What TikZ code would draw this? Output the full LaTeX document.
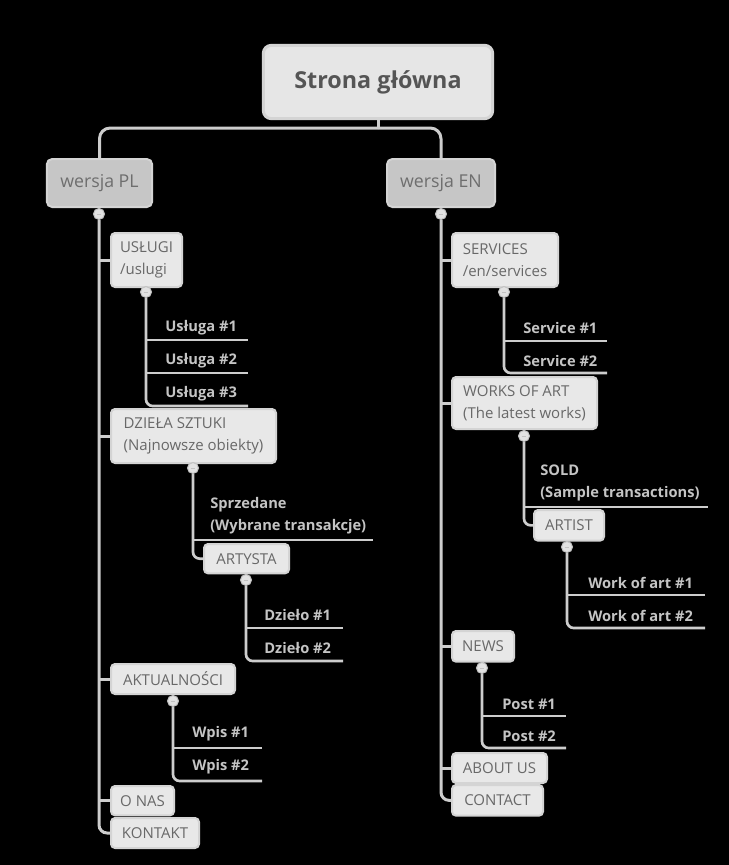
\documentclass[tikz,border=0pt]{standalone}
\usepackage{fontspec}
\setmainfont{Open Sans}
\pgfdeclarelayer{bg}
\pgfdeclarelayer{lines}
\pgfsetlayers{bg,lines,main}
\definecolor{linec}{HTML}{CDCDCD}
\definecolor{boxfill}{HTML}{E8E8E8}
\definecolor{rootfill}{HTML}{E6E6E6}
\definecolor{boxline}{HTML}{D4D4D4}
\definecolor{boxtext}{HTML}{686868}
\definecolor{roottext}{HTML}{555555}
\definecolor{vertext}{HTML}{6E6E6E}
\definecolor{verfill}{HTML}{C6C6C6}
\definecolor{leaftext}{HTML}{C4C4C4}
\definecolor{dotfill}{HTML}{E2E2E2}
\definecolor{dotline}{HTML}{C2C2C2}
\begin{document}
\begin{tikzpicture}[x=0.75pt,y=-0.75pt,
  rootbox/.style={draw=boxline, fill=rootfill, line width=2.25pt, rounded corners=6pt,
    text=roottext, font=\fontsize{17.5pt}{21pt}\selectfont\bfseries,
    minimum width=172pt, minimum height=55pt},
  verbox/.style={draw=boxline, fill=verfill, line width=1.5pt, rounded corners=4pt,
    text=vertext, font=\fontsize{13.3pt}{16pt}\selectfont, minimum height=36pt},
  bx/.style={draw=boxline, fill=boxfill, line width=1.5pt, rounded corners=3pt,
    text=boxtext, font=\fontsize{11.25pt}{16.5pt}\selectfont, align=left,
    inner xsep=6pt, inner ysep=2pt, anchor=north west},
  leaf/.style={text=leaftext, font=\fontsize{11pt}{16.5pt}\selectfont\bfseries, inner sep=0pt, align=left},
  dot/.style={circle, draw=dotline, fill=dotfill, line width=0.75pt, minimum size=8.25pt, inner sep=0pt,
    path picture={\draw[dotline, line width=0.6pt] ([xshift=-1.8pt]path picture bounding box.center) -- ([xshift=1.8pt]path picture bounding box.center);}},
  conn/.style={draw=linec, line width=2.25pt},
  subconn/.style={draw=linec, line width=2pt},
]
\useasboundingbox (0,0) rectangle (729,865);
\begin{pgfonlayer}{bg}
\fill[black] (0,0) rectangle (729,865);
\end{pgfonlayer}

% ---------- nodes ----------
\node[rootbox] (root) at (378,82) {Strona główna};
\node[verbox, minimum width=79pt] (pl) at (99.5,183) {wersja PL};
\node[verbox, minimum width=81pt] (en) at (441,183) {wersja EN};
\coordinate (hub) at (378,128);

% PL branch
\node[bx, minimum width=53.25pt, minimum height=40.5pt] (uslugi) at (110,232) {USŁUGI\\/uslugi};
\node[bx, minimum width=123.75pt, minimum height=40.5pt] (dziela) at (110,408) {DZIEŁA SZTUKI\\(Najnowsze obiekty)};
\node[bx, minimum width=63.75pt, minimum height=22pt] (artysta) at (203,543) {ARTYSTA};
\node[bx, minimum width=93pt, minimum height=22.5pt] (aktual) at (110,663) {AKTUALNOŚCI};
\node[bx, minimum width=47.25pt, minimum height=22pt] (onas) at (110,785) {O NAS};
\node[bx, minimum width=66pt, minimum height=22.5pt] (kontakt) at (110,817) {KONTAKT};

% EN branch
\node[bx, minimum width=79.5pt, minimum height=40.5pt] (services) at (451,232) {SERVICES\\/en/services};
\node[bx, minimum width=108.75pt, minimum height=39pt] (works) at (451,376) {WORKS OF ART\\(The latest works)};
\node[bx, minimum width=52.5pt, minimum height=23pt] (artist) at (533,509) {ARTIST};
\node[bx, minimum width=46.5pt, minimum height=23pt] (news) at (451,630) {NEWS};
\node[bx, minimum width=71.25pt, minimum height=22.5pt] (about) at (451,752) {ABOUT US};
\node[bx, minimum width=68.25pt, minimum height=23pt] (contact) at (451,784) {CONTACT};

% dots
\node[dot] (cpl) at (99,214) {};
\node[dot] (cus) at (146,292) {};
\node[dot] (cdz) at (193,468) {};
\node[dot] (cart) at (246,580) {};
\node[dot] (cak) at (173,701) {};
\node[dot] (cen) at (441,214) {};
\node[dot] (cse) at (504,292) {};
\node[dot] (cwo) at (524,436) {};
\node[dot] (cat) at (567,547) {};
\node[dot] (cne) at (482,668) {};

% leaves
\node[leaf, anchor=base west] (u1) at (165,331) {Usługa \#1};
\node[leaf, anchor=base west] (u2) at (165,364) {Usługa \#2};
\node[leaf, anchor=base west] (u3) at (165,397) {Usługa \#3};
\node[leaf, anchor=south west] (sp) at (210,534) {Sprzedane\\(Wybrane transakcje)};
\node[leaf, anchor=base west] (d1) at (264,620) {Dzieło \#1};
\node[leaf, anchor=base west] (d2) at (264,653) {Dzieło \#2};
\node[leaf, anchor=base west] (w1) at (192,737) {Wpis \#1};
\node[leaf, anchor=base west] (w2) at (192,770) {Wpis \#2};

\node[leaf, anchor=base west] (s1) at (523,333) {Service \#1};
\node[leaf, anchor=base west] (s2) at (523,366) {Service \#2};
\node[leaf, anchor=south west] (so) at (540,501) {SOLD\\(Sample transactions)};
\node[leaf, anchor=base west] (wa1) at (588,588) {Work of art \#1};
\node[leaf, anchor=base west] (wa2) at (588,621) {Work of art \#2};
\node[leaf, anchor=base west] (p1) at (502,709) {Post \#1};
\node[leaf, anchor=base west] (p2) at (502,741) {Post \#2};

% underline ends
\coordinate (u1e) at (248,340);
\coordinate (u2e) at (248,373);
\coordinate (u3e) at (248,406);
\coordinate (spe) at (373,540);
\coordinate (d1e) at (343,628);
\coordinate (d2e) at (343,661);
\coordinate (w1e) at (262,748);
\coordinate (w2e) at (262,781);
\coordinate (s1e) at (607,341);
\coordinate (s2e) at (607,373);
\coordinate (soe) at (708,507);
\coordinate (wa1e) at (705,595);
\coordinate (wa2e) at (705,628);
\coordinate (p1e) at (566,716);
\coordinate (p2e) at (566,748);

% ---------- connectors ----------
\begin{pgfonlayer}{lines}
\draw[conn] (root.south) -- (hub);
\draw[conn, rounded corners=8pt] (hub) -| (pl.north);
\draw[conn, rounded corners=8pt] (hub) -| (en.north);

% PL main
\draw[conn] (pl.south) -- (cpl);
\draw[conn, rounded corners=6pt] (cpl) |- (kontakt.west);
\foreach \n in {uslugi,dziela,aktual,onas} \draw[conn] (cpl |- \n.west) -- (\n.west);

\draw[subconn] (uslugi.south) -- (cus);
\draw[subconn, rounded corners=5pt] (cus) |- (u3e);
\draw[subconn] (cus |- u1e) -- (u1e);
\draw[subconn] (cus |- u2e) -- (u2e);

\draw[subconn] (dziela.south) -- (cdz);
\draw[subconn, rounded corners=5pt] (cdz) |- (artysta.west);
\draw[subconn] (cdz |- spe) -- (spe);

\draw[subconn] (artysta.south) -- (cart);
\draw[subconn, rounded corners=5pt] (cart) |- (d2e);
\draw[subconn] (cart |- d1e) -- (d1e);

\draw[subconn] (aktual.south) -- (cak);
\draw[subconn, rounded corners=5pt] (cak) |- (w2e);
\draw[subconn] (cak |- w1e) -- (w1e);

% EN main
\draw[conn] (en.south) -- (cen);
\draw[conn, rounded corners=6pt] (cen) |- (contact.west);
\foreach \n in {services,works,news,about} \draw[conn] (cen |- \n.west) -- (\n.west);

\draw[subconn] (services.south) -- (cse);
\draw[subconn, rounded corners=5pt] (cse) |- (s2e);
\draw[subconn] (cse |- s1e) -- (s1e);

\draw[subconn] (works.south) -- (cwo);
\draw[subconn, rounded corners=5pt] (cwo) |- (artist.west);
\draw[subconn] (cwo |- soe) -- (soe);

\draw[subconn] (artist.south) -- (cat);
\draw[subconn, rounded corners=5pt] (cat) |- (wa2e);
\draw[subconn] (cat |- wa1e) -- (wa1e);

\draw[subconn] (news.south) -- (cne);
\draw[subconn, rounded corners=5pt] (cne) |- (p2e);
\draw[subconn] (cne |- p1e) -- (p1e);
\end{pgfonlayer}
\end{tikzpicture}
\end{document}
